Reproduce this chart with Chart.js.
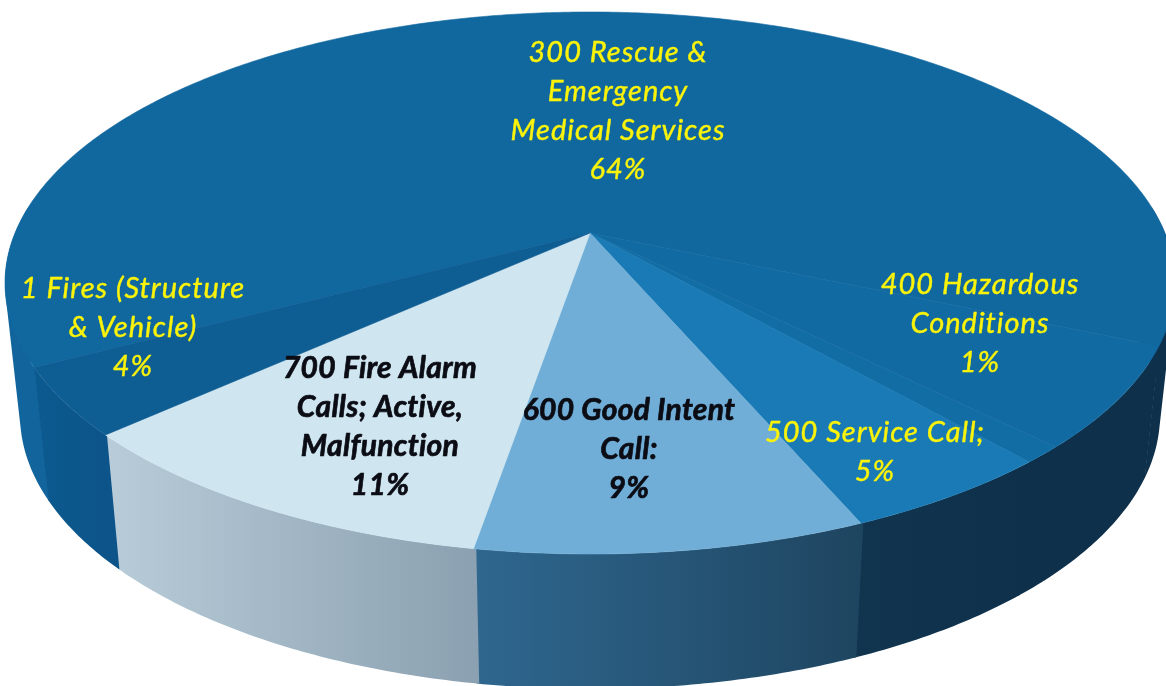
<!DOCTYPE html>
<html>
<head>
<meta charset="utf-8">
<style>html,body{margin:0;padding:0;background:#fff;overflow:hidden}canvas{display:block}</style>
<script src="https://cdn.jsdelivr.net/npm/chart.js@4"></script>
</head>
<body>
<canvas id="c" width="1166" height="686"></canvas>
<script>
const categories = ["300 Rescue & Emergency Medical Services","Unlabelled","400 Hazardous Conditions","500 Service Call;","600 Good Intent Call:","700 Fire Alarm Calls; Active, Malfunction","1 Fires (Structure & Vehicle)"];
const values = [64,6,1,5,9,10.5,4];
const percentText = ["64%","","1%","5%","9%","11%","4%"];
const topColors = ["#10689f","#116aa1","#126da4","#1a7ab5","#70aed7","#cfe5f0","#0e5d93"];
const wallLeft = ["#12659c","#0e304b","#0e304b","#11344f","#2f678f","#b8ccd9","#0b5a8f"];
const wallRight = ["#0e304b","#0e304b","#0e304b","#0e304b","#1e4560","#8ba0b0","#0c5388"];
const labelLines = [["300 Rescue &","Emergency","Medical Services"],[],["400 Hazardous","Conditions"],["500 Service Call;"],["600 Good Intent","Call:"],["700 Fire Alarm","Calls; Active,","Malfunction"],["1 Fires (Structure","& Vehicle)"]];
const labelX = [618,0,980,875,629,380,133];
const labelTop = [53,0,285,433,410,368,289];
const labelBold = [false,false,false,false,true,true,false];

const topDisk = {cx:590,cy:283,rx:585,ry:271};
const baseDisk = {cx:590,cy:415,rx:570,ry:274};
const tilt = -0.1845, tiltS = Math.sqrt(1-tilt*tilt);
function project(a,E){
  const u=Math.cos(a), v=Math.sin(a), d=1+tilt*v;
  return [E.cx+E.rx*u*tiltS/d, E.cy+E.ry*(v+tilt)/d];
}
function arcPts(a0,a1,E){
  const n=Math.max(2,Math.ceil(Math.abs(a1-a0)/0.01)), p=[];
  for(let i=0;i<=n;i++) p.push(project(a0+(a1-a0)*i/n,E));
  return p;
}
function frontRuns(a0,a1){
  const runs=[]; let cur=null; const n=Math.ceil((a1-a0)/0.01);
  for(let i=0;i<=n;i++){
    const a=a0+(a1-a0)*i/n;
    if(Math.sin(a)>-0.1){ if(!cur){cur=[a,a];runs.push(cur);} cur[1]=a; } else cur=null;
  }
  return runs;
}
function addQuad(ctx,q){
  let area=0;
  q.forEach((p,k)=>{const n=q[(k+1)%4]; area+=p[0]*n[1]-n[0]*p[1];});
  const o=area<0?q.slice().reverse():q;
  o.forEach((p,k)=>k?ctx.lineTo(p[0],p[1]):ctx.moveTo(p[0],p[1]));
  ctx.closePath();
}
const pie3d = {
  id:'pie3d',
  beforeDatasetsDraw(chart){
    const ctx=chart.ctx, arcs=chart.getDatasetMeta(0).data;
    ctx.save();
    arcs.forEach((arc,i)=>{
      frontRuns(arc.startAngle,arc.endAngle).forEach(([a0,a1])=>{
        // a slight overlap into the next slice hides the anti-aliased seam
        const t=arcPts(a0-0.004,a1,topDisk), b=arcPts(a0-0.004,a1,baseDisk);
        const xs=t.concat(b).map(p=>p[0]);
        const g=ctx.createLinearGradient(Math.min(...xs),0,Math.max(...xs),0);
        const leftSide=Math.cos((a0+a1)/2)<0;
        const c0=i===0&&!leftSide?wallRight[0]:wallLeft[i];
        const c1=i===0&&leftSide?wallLeft[0]:wallRight[i];
        g.addColorStop(0,c0); g.addColorStop(1,c1);
        ctx.beginPath();
        for(let k=0;k<t.length-1;k++) addQuad(ctx,[t[k],t[k+1],b[k+1],b[k]]);
        ctx.fillStyle=g;
        ctx.fill('nonzero');
      });
    });
    const centre=[topDisk.cx, topDisk.cy+topDisk.ry*tilt];
    arcs.forEach((arc,i)=>{
      ctx.beginPath();
      ctx.moveTo(centre[0],centre[1]);
      arcPts(arc.startAngle,arc.endAngle,topDisk).forEach(p=>ctx.lineTo(p[0],p[1]));
      ctx.closePath();
      ctx.fillStyle=topColors[i]; ctx.strokeStyle=topColors[i]; ctx.lineWidth=0.6;
      ctx.fill(); ctx.stroke();
    });
    ctx.textAlign='center'; ctx.textBaseline='middle'; ctx.lineJoin='round';
    const lh=39;
    labelLines.forEach((lines,i)=>{
      if(!lines.length) return;
      const bold=labelBold[i];
      ctx.font=(bold?'italic bold 30px':'italic 29px')+' Lato, Carlito, sans-serif';
      ctx.letterSpacing=bold?'0.3px':'1px';
      ctx.fillStyle=bold?'#0b0c14':'#fbf30a';
      ctx.strokeStyle=ctx.fillStyle; ctx.lineWidth=bold?0.7:0.4;
      lines.concat([percentText[i]]).forEach((s,k)=>{
        ctx.fillText(s,labelX[i],labelTop[i]+k*lh);
        ctx.strokeText(s,labelX[i],labelTop[i]+k*lh);
      });
    });
    ctx.restore();
    return false;
  }
};
new Chart(document.getElementById('c'),{
  type:'pie',
  data:{labels:categories,datasets:[{data:values,backgroundColor:topColors,borderWidth:0}]},
  options:{
    responsive:false,animation:false,rotation:242,
    layout:{padding:0},
    plugins:{legend:{display:false},tooltip:{enabled:false}}
  },
  plugins:[pie3d]
});
</script>
</body>
</html>
